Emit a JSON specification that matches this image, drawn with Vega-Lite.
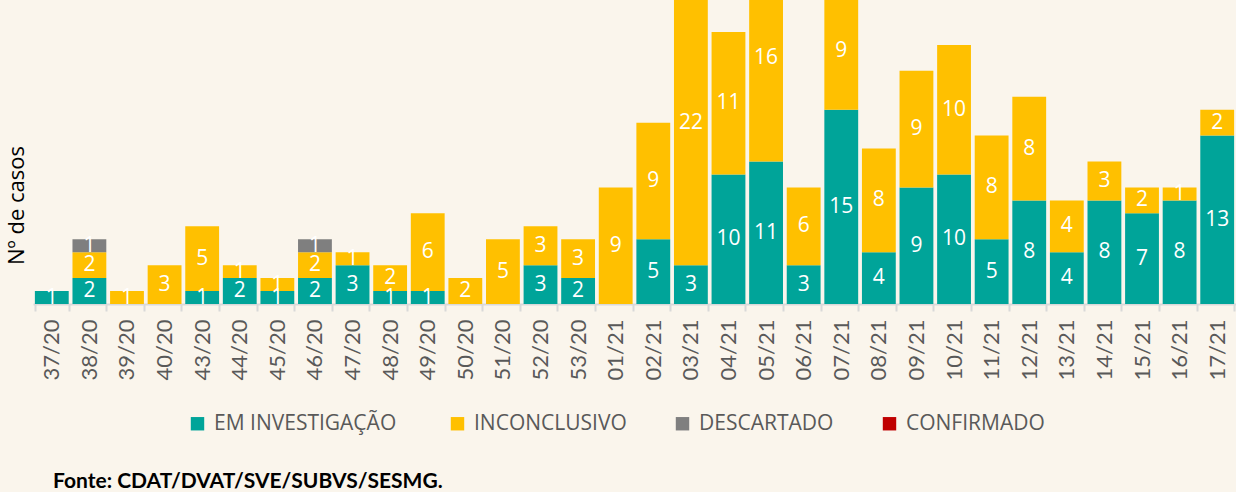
{
  "$schema": "https://vega.github.io/schema/vega-lite/v6.json",
  "autosize": {"type": "none"},
  "width": 1203,
  "height": 304,
  "padding": {"left": 33, "top": 0, "right": 0, "bottom": 188},
  "background": "#faf5ec",
  "config": {
    "view": {"stroke": null},
    "font": "Lato"
  },
  "title": {
    "text": "Fonte: CDAT/DVAT/SVE/SUBVS/SESMG.",
    "orient": "bottom",
    "anchor": "start",
    "frame": "group",
    "fontSize": 21,
    "fontWeight": "bold",
    "color": "#000000",
    "font": "Lato",
    "baseline": "top",
    "dx": 20,
    "offset": 37
  },
  "data": {
    "values": [
      {"semana": "37/20", "status": "EM  INVESTIGAÇÃO", "n": 1},
      {"semana": "38/20", "status": "EM  INVESTIGAÇÃO", "n": 2},
      {"semana": "38/20", "status": "INCONCLUSIVO", "n": 2},
      {"semana": "38/20", "status": "DESCARTADO", "n": 1},
      {"semana": "39/20", "status": "INCONCLUSIVO", "n": 1},
      {"semana": "40/20", "status": "INCONCLUSIVO", "n": 3},
      {"semana": "43/20", "status": "EM  INVESTIGAÇÃO", "n": 1},
      {"semana": "43/20", "status": "INCONCLUSIVO", "n": 5},
      {"semana": "44/20", "status": "EM  INVESTIGAÇÃO", "n": 2},
      {"semana": "44/20", "status": "INCONCLUSIVO", "n": 1},
      {"semana": "45/20", "status": "EM  INVESTIGAÇÃO", "n": 1},
      {"semana": "45/20", "status": "INCONCLUSIVO", "n": 1},
      {"semana": "46/20", "status": "EM  INVESTIGAÇÃO", "n": 2},
      {"semana": "46/20", "status": "INCONCLUSIVO", "n": 2},
      {"semana": "46/20", "status": "DESCARTADO", "n": 1},
      {"semana": "47/20", "status": "EM  INVESTIGAÇÃO", "n": 3},
      {"semana": "47/20", "status": "INCONCLUSIVO", "n": 1},
      {"semana": "48/20", "status": "EM  INVESTIGAÇÃO", "n": 1},
      {"semana": "48/20", "status": "INCONCLUSIVO", "n": 2},
      {"semana": "49/20", "status": "EM  INVESTIGAÇÃO", "n": 1},
      {"semana": "49/20", "status": "INCONCLUSIVO", "n": 6},
      {"semana": "50/20", "status": "INCONCLUSIVO", "n": 2},
      {"semana": "51/20", "status": "INCONCLUSIVO", "n": 5},
      {"semana": "52/20", "status": "EM  INVESTIGAÇÃO", "n": 3},
      {"semana": "52/20", "status": "INCONCLUSIVO", "n": 3},
      {"semana": "53/20", "status": "EM  INVESTIGAÇÃO", "n": 2},
      {"semana": "53/20", "status": "INCONCLUSIVO", "n": 3},
      {"semana": "01/21", "status": "INCONCLUSIVO", "n": 9},
      {"semana": "02/21", "status": "EM  INVESTIGAÇÃO", "n": 5},
      {"semana": "02/21", "status": "INCONCLUSIVO", "n": 9},
      {"semana": "03/21", "status": "EM  INVESTIGAÇÃO", "n": 3},
      {"semana": "03/21", "status": "INCONCLUSIVO", "n": 22},
      {"semana": "04/21", "status": "EM  INVESTIGAÇÃO", "n": 10},
      {"semana": "04/21", "status": "INCONCLUSIVO", "n": 11},
      {"semana": "05/21", "status": "EM  INVESTIGAÇÃO", "n": 11},
      {"semana": "05/21", "status": "INCONCLUSIVO", "n": 16},
      {"semana": "06/21", "status": "EM  INVESTIGAÇÃO", "n": 3},
      {"semana": "06/21", "status": "INCONCLUSIVO", "n": 6},
      {"semana": "07/21", "status": "EM  INVESTIGAÇÃO", "n": 15},
      {"semana": "07/21", "status": "INCONCLUSIVO", "n": 9},
      {"semana": "08/21", "status": "EM  INVESTIGAÇÃO", "n": 4},
      {"semana": "08/21", "status": "INCONCLUSIVO", "n": 8},
      {"semana": "09/21", "status": "EM  INVESTIGAÇÃO", "n": 9},
      {"semana": "09/21", "status": "INCONCLUSIVO", "n": 9},
      {"semana": "10/21", "status": "EM  INVESTIGAÇÃO", "n": 10},
      {"semana": "10/21", "status": "INCONCLUSIVO", "n": 10},
      {"semana": "11/21", "status": "EM  INVESTIGAÇÃO", "n": 5},
      {"semana": "11/21", "status": "INCONCLUSIVO", "n": 8},
      {"semana": "12/21", "status": "EM  INVESTIGAÇÃO", "n": 8},
      {"semana": "12/21", "status": "INCONCLUSIVO", "n": 8},
      {"semana": "13/21", "status": "EM  INVESTIGAÇÃO", "n": 4},
      {"semana": "13/21", "status": "INCONCLUSIVO", "n": 4},
      {"semana": "14/21", "status": "EM  INVESTIGAÇÃO", "n": 8},
      {"semana": "14/21", "status": "INCONCLUSIVO", "n": 3},
      {"semana": "15/21", "status": "EM  INVESTIGAÇÃO", "n": 7},
      {"semana": "15/21", "status": "INCONCLUSIVO", "n": 2},
      {"semana": "16/21", "status": "EM  INVESTIGAÇÃO", "n": 8},
      {"semana": "16/21", "status": "INCONCLUSIVO", "n": 1},
      {"semana": "17/21", "status": "EM  INVESTIGAÇÃO", "n": 13},
      {"semana": "17/21", "status": "INCONCLUSIVO", "n": 2}
    ]
  },
  "transform": [
    {"calculate": "indexof(['EM  INVESTIGAÇÃO','INCONCLUSIVO','DESCARTADO','CONFIRMADO'], datum.status)", "as": "ord"},
    {"stack": "n", "groupby": ["semana"], "sort": [{"field": "ord", "order": "ascending"}], "as": ["y0", "y1"]},
    {"calculate": "(datum.y0 + datum.y1) / 2", "as": "ymid"}
  ],
  "encoding": {
    "x": {
      "field": "semana",
      "type": "nominal",
      "sort": null,
      "scale": {"paddingInner": 0.1, "paddingOuter": 0.05},
      "axis": {
        "title": null,
        "labelAngle": -90,
        "labelAlign": "right",
        "labelBaseline": "middle",
        "labelFontSize": 22,
        "labelColor": "#595959",
        "labelPadding": 8,
        "domainColor": "#d9d9d9",
        "domainWidth": 2,
        "tickColor": "#d9d9d9",
        "tickWidth": 2,
        "tickSize": 7,
        "tickBand": "extent",
        "grid": false
      }
    }
  },
  "layer": [
    {
      "mark": {"type": "bar", "clip": true},
      "encoding": {
        "y": {
          "field": "y0",
          "type": "quantitative",
          "scale": {"domain": [0, 23.47], "nice": false, "zero": true},
          "axis": {
            "title": "Nº de casos",
            "titleFontSize": 22,
            "titleFontWeight": "normal",
            "titleColor": "#000000",
            "titleFont": "Open Sans",
            "titleX": -17,
            "titleY": 205,
            "titleAngle": 270,
            "titleAlign": "center",
            "titleBaseline": "middle",
            "labels": false,
            "ticks": false,
            "domain": false,
            "grid": false
          }
        },
        "y2": {"field": "y1"},
        "color": {
          "field": "status",
          "type": "nominal",
          "scale": {
            "domain": ["EM  INVESTIGAÇÃO", "INCONCLUSIVO", "DESCARTADO", "CONFIRMADO"],
            "range": ["#00a499", "#ffc000", "#7f7f7f", "#c00000"]
          },
          "legend": {
            "title": null,
            "orient": "none",
            "direction": "horizontal",
            "legendX": 154,
            "legendY": 413,
            "symbolType": "square",
            "symbolSize": 180,
            "symbolStrokeWidth": 0,
            "symbolOpacity": 1,
            "labelFontSize": 21,
            "labelColor": "#595959",
            "labelFont": "Open Sans",
            "labelOffset": 6,
            "labelLimit": 300,
            "columnPadding": 45
          }
        }
      }
    },
    {
      "mark": {"type": "text", "color": "#ffffff", "fontSize": 21, "baseline": "middle", "align": "center", "font": "Open Sans"},
      "encoding": {
        "y": {"field": "ymid", "type": "quantitative"},
        "text": {"field": "n", "type": "quantitative"}
      }
    }
  ]
}
